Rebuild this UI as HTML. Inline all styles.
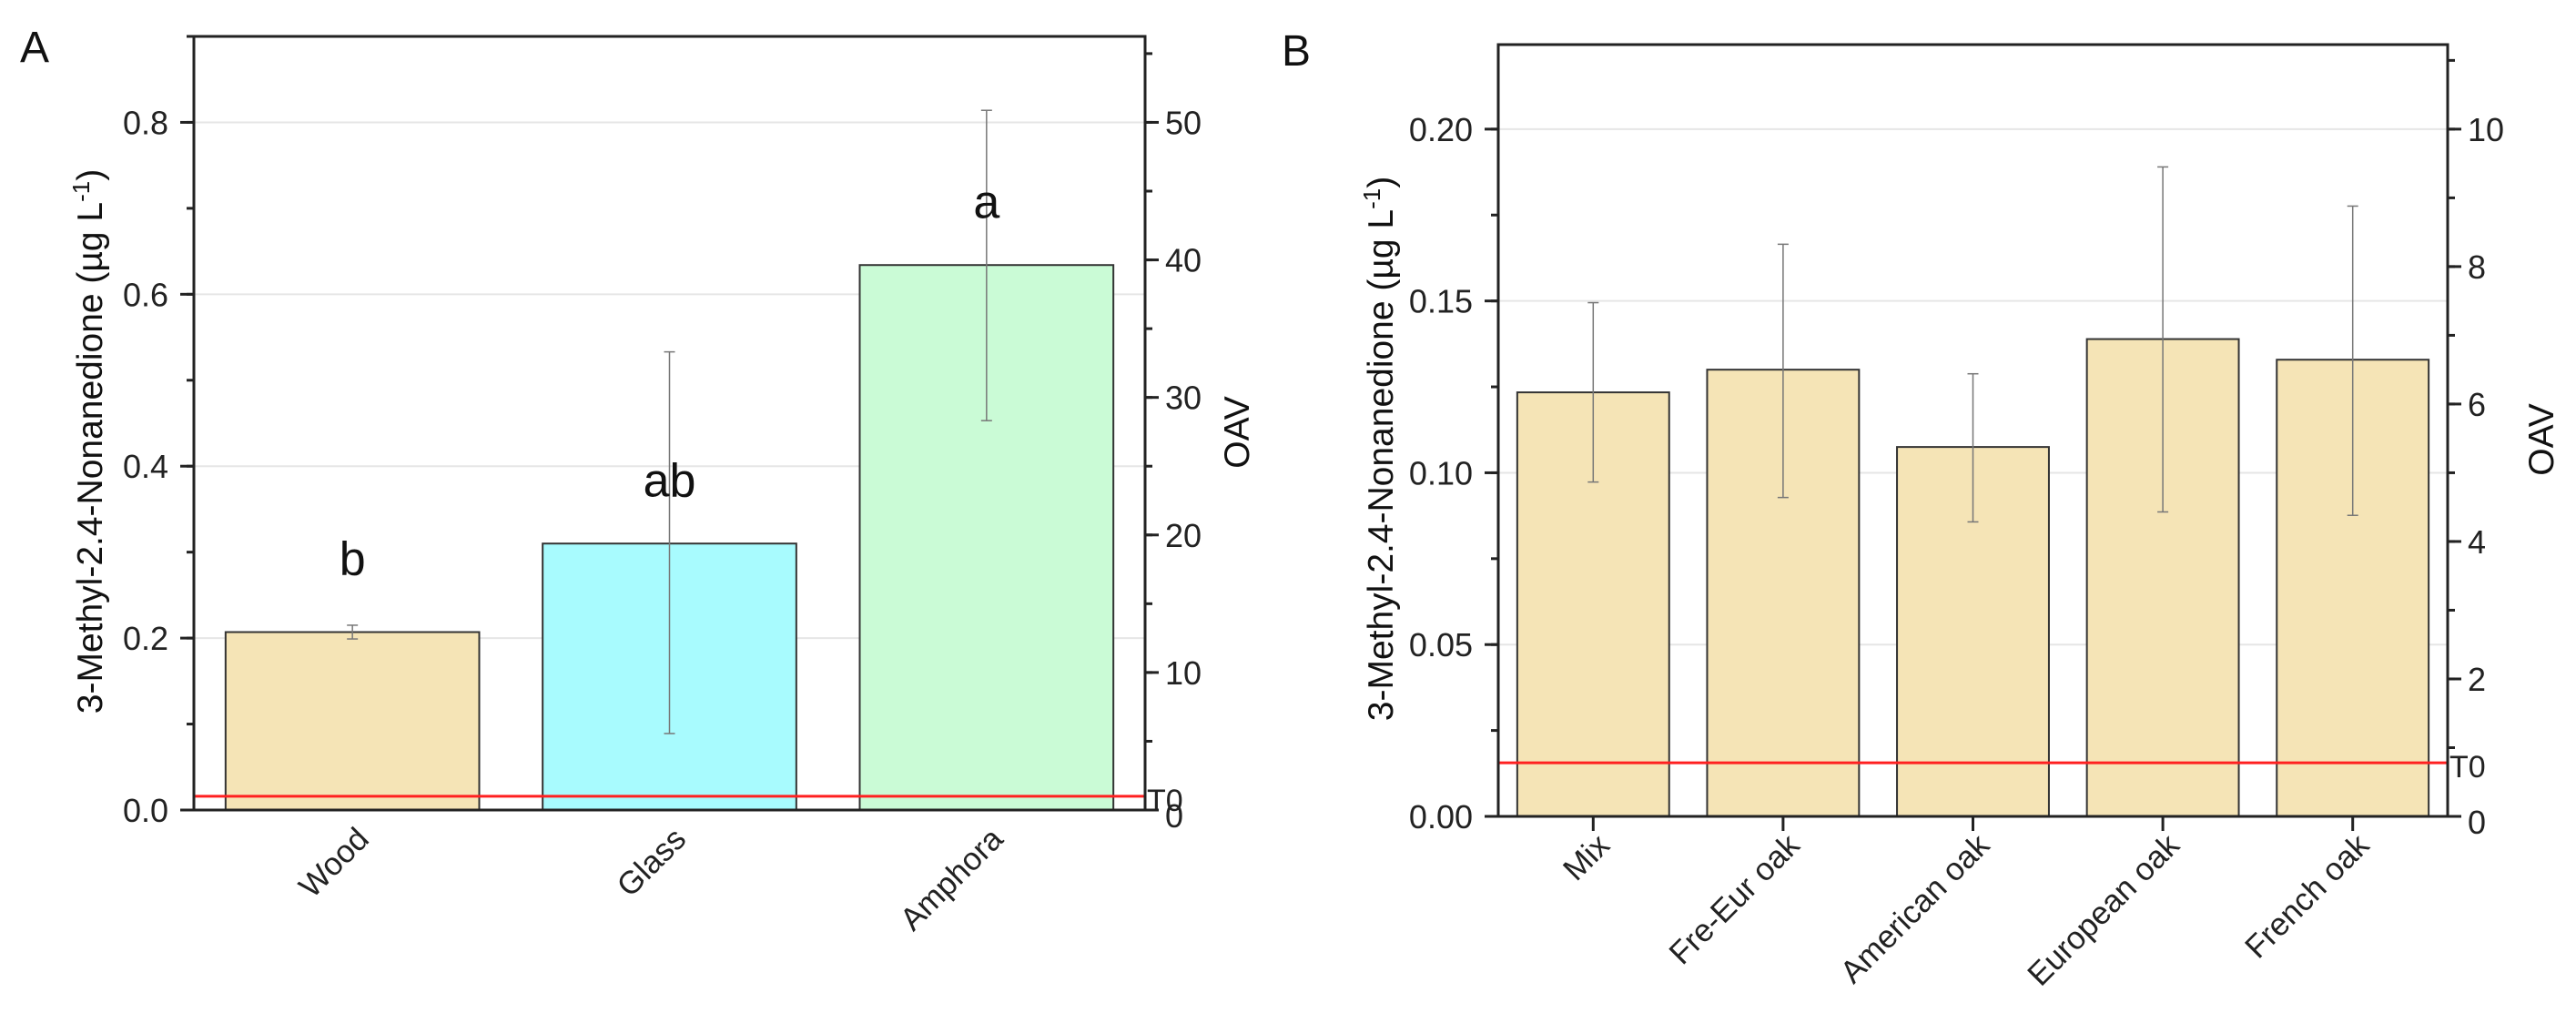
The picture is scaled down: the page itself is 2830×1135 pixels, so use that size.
<!DOCTYPE html>
<html><head><meta charset="utf-8"><style>
html,body{margin:0;padding:0;background:#fff;}
svg{display:block;font-family:"Liberation Sans",Arial,sans-serif;}
</style></head><body>
<svg id="chart" width="2830" height="1135" viewBox="0 0 2830 1135" xmlns="http://www.w3.org/2000/svg">
<text x="22" y="68" font-size="48" fill="#111">A</text>
<text x="1408" y="72" font-size="48" fill="#111">B</text>
</svg>
<script>
const catsA = ["Wood","Glass","Amphora"];
const valsA = [0.207, 0.310, 0.634];
const errLoA = [0.199, 0.089, 0.453];
const errHiA = [0.215, 0.533, 0.814];
const lettersA = ["b","ab","a"];
const letterPosA = [0.293, 0.384, 0.708];
const colorsA = ["#F5E4B6","#A8FBFE","#CAFBD6"];
const ticksA = [0.0,0.2,0.4,0.6,0.8];
const ticksOavA = [0,10,20,30,40,50];
const t0A = 0.016;

const catsB = ["Mix","Fre-Eur oak","American oak","European oak","French oak"];
const valsB = [0.1234, 0.130, 0.1075, 0.1389, 0.1329];
const errLoB = [0.0973, 0.0928, 0.0857, 0.0886, 0.0876];
const errHiB = [0.1495, 0.1665, 0.1288, 0.189, 0.1776];
const ticksB = [0.00,0.05,0.10,0.15,0.20];
const ticksOavB = [0,2,4,6,8,10];
const t0B = 0.0156;

const NS="http://www.w3.org/2000/svg";
const svg=document.getElementById('chart');
function mk(tag,attrs,parent){const e=document.createElementNS(NS,tag);for(const k in attrs)e.setAttribute(k,attrs[k]);(parent||svg).appendChild(e);return e;}

function panel(p){
  const g=mk('g',{});
  
  
  const y=v=>p.y0-(v-0)/(p.ymax)*(p.y0-p.yTop);
  const n=p.cats.length, step=(p.xR-p.xL)/n;
  const x=i=>p.xL+step*(i+0.5);
  p.ticks.forEach(t=>{ if(t>0){const l=mk('line',{x1:p.xL,x2:p.xR,y1:y(t),y2:y(t),stroke:'#e6e6e6','stroke-width':2},g);
    
    }});
  p.cats.forEach((c,i)=>{
    const w=step*0.8;
    const r=mk('rect',{x:x(i)-w/2,y:y(p.vals[i]),width:w,height:p.y0-y(p.vals[i]),fill:p.colors[i],stroke:'#333','stroke-width':2},g);
    
    
    const eg=mk('g',{stroke:'#777','stroke-width':1.5},g);
    
    
    mk('line',{x1:x(i),x2:x(i),y1:y(p.lo[i]),y2:y(p.hi[i])},eg);
    mk('line',{x1:x(i)-6,x2:x(i)+6,y1:y(p.lo[i]),y2:y(p.lo[i])},eg);
    mk('line',{x1:x(i)-6,x2:x(i)+6,y1:y(p.hi[i]),y2:y(p.hi[i])},eg);
    if(p.letters){const t=mk('text',{x:x(i),y:y(p.letterPos[i])+18,'font-size':52,'text-anchor':'middle',fill:'#111'},g);t.textContent=p.letters[i];
      
      }
    const lx=x(i)+20, ly=p.y0+34;
    const ct=mk('text',{x:lx,y:ly,'font-size':35,'text-anchor':'end',fill:'#222',transform:`rotate(-45 ${lx} ${ly})`},g);
    ct.textContent=c;
    
    
    if(p.xticks){mk('line',{x1:x(i),x2:x(i),y1:p.y0,y2:p.y0+16,stroke:'#222','stroke-width':3},g);}
  });
  const tl=mk('line',{x1:p.xL,x2:p.xR,y1:y(p.t0),y2:y(p.t0),stroke:'#ff2020','stroke-width':3},g);
  
  
  const tt=mk('text',{x:p.xR+2,y:y(p.t0)+16,'font-size':34,fill:'#222'},g);tt.textContent='T0';
  
  
  const fr=mk('rect',{x:p.xL,y:p.yTop,width:p.xR-p.xL,height:p.y0-p.yTop,fill:'none',stroke:'#222','stroke-width':3},g);
  
  
  mk('line',{x1:p.xL-15,x2:p.xR+15,y1:p.y0,y2:p.y0,stroke:'#222','stroke-width':3},g);
  const minorStep=(p.ticks[1]-p.ticks[0])/2;
  for(let v=0; v<=p.ymax+1e-9; v+=minorStep){mk('line',{x1:p.xL-8,x2:p.xL,y1:y(v),y2:y(v),stroke:'#222','stroke-width':3},g);}
  p.ticks.forEach(t=>{mk('line',{x1:p.xL-15,x2:p.xL,y1:y(t),y2:y(t),stroke:'#222','stroke-width':3},g);
    const tx=mk('text',{x:p.xL-28,y:y(t)+13,'font-size':36,'text-anchor':'end',fill:'#222'},g);tx.textContent=t.toFixed(p.dec);
    
    });
  const yo=o=>y(o*p.oavScale);
  const om=(p.oav[1]-p.oav[0])/2;
  for(let o=0; o*p.oavScale<=p.ymax+1e-9; o+=om){mk('line',{x1:p.xR,x2:p.xR+8,y1:yo(o),y2:yo(o),stroke:'#222','stroke-width':3},g);}
  p.oav.forEach(o=>{mk('line',{x1:p.xR,x2:p.xR+15,y1:yo(o),y2:yo(o),stroke:'#222','stroke-width':3},g);
    const tx=mk('text',{x:p.xR+22,y:yo(o)+13+(o===0?6:0),'font-size':36,fill:'#222'},g);tx.textContent=o;
    
    });
  const cy=(p.yTop+p.y0)/2+20;
  const yt=mk('text',{x:p.titleX,y:cy,'font-size':39,'text-anchor':'middle',fill:'#111',transform:`rotate(-90 ${p.titleX} ${cy})`},g);
  yt.innerHTML='3-Methyl-2.4-Nonanedione (µg L<tspan dy="-14" font-size="26">-1</tspan><tspan dy="14">)</tspan>';
  
  
  const oy=(p.yTop+p.y0)/2+10;
  const ot=mk('text',{x:p.oavX,y:oy,'font-size':39,'text-anchor':'middle',fill:'#111',transform:`rotate(-90 ${p.oavX} ${oy})`},g);
  ot.textContent='OAV';
  
  
}

panel({id:'panel-a',cats:catsA,vals:valsA,lo:errLoA,hi:errHiA,colors:colorsA,letters:lettersA,letterPos:letterPosA,
  ticks:ticksA,oav:ticksOavA,oavScale:t0A,t0:t0A,xL:213,xR:1258,yTop:40,y0:890,ymax:0.9,dec:1,titleX:112,oavX:1372,xticks:false});
panel({id:'panel-b',cats:catsB,vals:valsB,lo:errLoB,hi:errHiB,colors:catsB.map(()=>"#F5E4B6"),
  ticks:ticksB,oav:ticksOavB,oavScale:0.02,t0:t0B,xL:1646,xR:2689,yTop:49,y0:897,ymax:0.2246,dec:2,titleX:1530,oavX:2805,xticks:true});
</script>
</body></html>
